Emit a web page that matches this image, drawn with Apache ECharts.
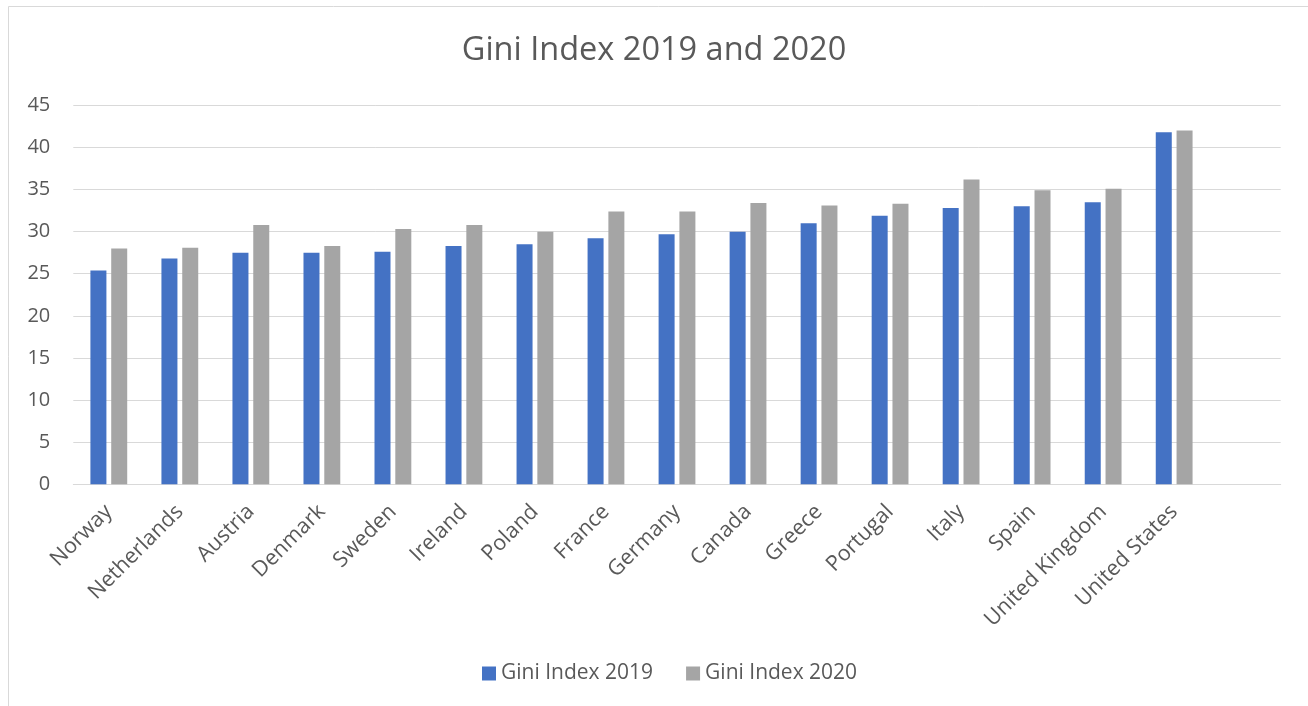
<!DOCTYPE html>
<html>
<head>
<meta charset="utf-8">
<title>Gini Index 2019 and 2020</title>
<script src="https://cdn.jsdelivr.net/npm/echarts@6/dist/echarts.min.js"></script>
<style>
  html, body { margin: 0; padding: 0; background: #ffffff; }
  #chart { width: 1308px; height: 706px; }
</style>
</head>
<body>
<div id="chart"></div>
<script>
// Countries, ordered by their 2019 value
const countries = ['Norway', 'Netherlands', 'Austria', 'Denmark', 'Sweden', 'Ireland', 'Poland', 'France',
  'Germany', 'Canada', 'Greece', 'Portugal', 'Italy', 'Spain', 'United Kingdom', 'United States'];
const gini2019 = [25.4, 26.8, 27.5, 27.5, 27.6, 28.3, 28.5, 29.2, 29.7, 30.0, 31.0, 31.9, 32.8, 33.0, 33.5, 41.8];
const gini2020 = [28.0, 28.1, 30.8, 28.3, 30.3, 30.8, 30.0, 32.4, 32.4, 33.4, 33.1, 33.3, 36.2, 34.9, 35.1, 42.0];
const yTicks = { min: 0, max: 45, step: 5 };

const textColor = '#595959';
const fontFamily = "'Open Sans', 'Noto Sans', sans-serif";

const chart = echarts.init(document.getElementById('chart'), null, { renderer: 'canvas' });

chart.setOption({
  animation: false,
  backgroundColor: '#ffffff',
  textStyle: { fontFamily: fontFamily },
  graphic: [{
    type: 'rect',
    shape: { x: 8.5, y: 6.5, width: 1400, height: 800 },
    style: { fill: 'none', stroke: '#D9D9D9', lineWidth: 1 },
    silent: true
  }],
  title: {
    text: 'Gini Index 2019 and 2020',
    left: 'center',
    top: 29,
    textStyle: { fontFamily: fontFamily, fontSize: 32.5, fontWeight: 'normal', color: textColor }
  },
  legend: {
    top: 658,
    left: 477,
    icon: 'rect',
    itemWidth: 14,
    itemHeight: 14,
    itemGap: 33,
    textStyle: { fontFamily: fontFamily, fontSize: 21, color: textColor }
  },
  grid: { left: 73.3, right: 27.3, top: 105.3, bottom: 221.7, containLabel: false },
  xAxis: {
    type: 'category',
    // one trailing empty slot keeps the space on the right of the plot
    data: countries.concat(['']),
    axisTick: { show: false },
    axisLine: { lineStyle: { color: '#D9D9D9', width: 1 } },
    axisLabel: { rotate: 45, interval: 0, margin: 24, fontSize: 21.5, color: textColor, fontFamily: fontFamily }
  },
  yAxis: {
    type: 'value',
    min: yTicks.min,
    max: yTicks.max,
    interval: yTicks.step,
    axisLine: { show: false },
    axisTick: { show: false },
    splitLine: { lineStyle: { color: '#D9D9D9', width: 1 } },
    axisLabel: { margin: 23, fontSize: 20, color: textColor, fontFamily: fontFamily }
  },
  series: [
    {
      name: 'Gini Index 2019',
      type: 'bar',
      data: gini2019,
      barWidth: 16,
      barGap: '30%',
      itemStyle: { color: '#4472C4' }
    },
    {
      name: 'Gini Index 2020',
      type: 'bar',
      data: gini2020,
      barWidth: 16,
      barGap: '30%',
      itemStyle: { color: '#A5A5A5' }
    }
  ]
});
</script>
</body>
</html>
